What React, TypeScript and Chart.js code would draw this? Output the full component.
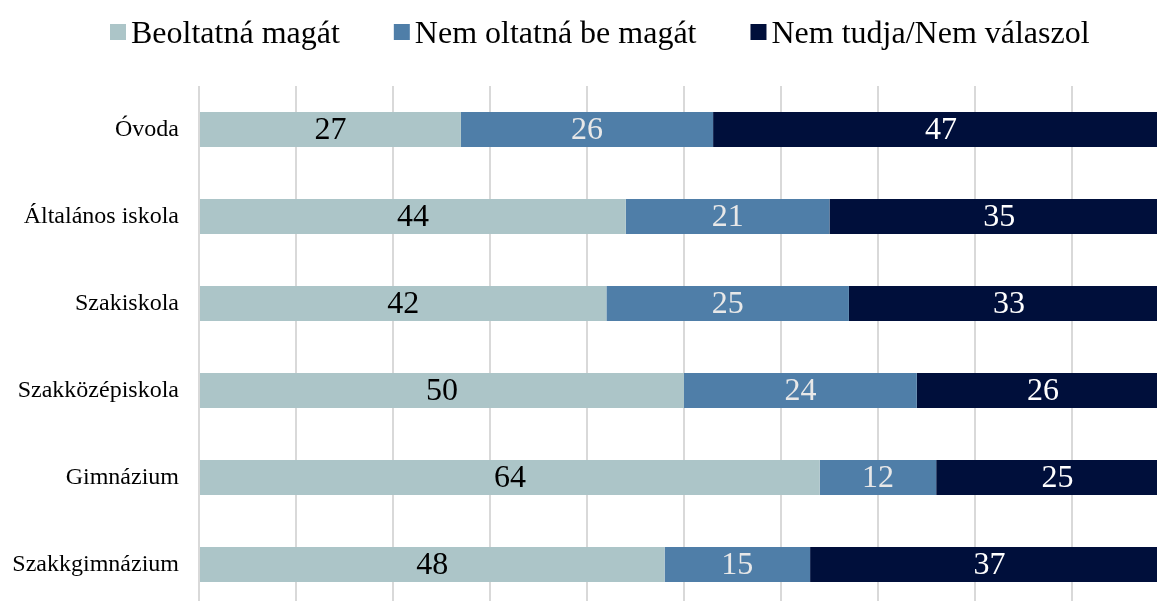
import React, { useEffect, useRef } from "react";
import { Chart, registerables } from "chart.js";

Chart.register(...registerables);

const categories = [
  "Óvoda",
  "Általános iskola",
  "Szakiskola",
  "Szakközépiskola",
  "Gimnázium",
  "Szakkgimnázium",
];
const seriesNames = ["Beoltatná magát", "Nem oltatná be magát", "Nem tudja/Nem válaszol"];
const beoltatna = [27, 44, 42, 50, 64, 48];
const nemOltatna = [26, 21, 25, 24, 12, 15];
const nemTudja = [47, 35, 33, 26, 25, 37];
const xTicks = [0, 10, 20, 30, 40, 50, 60, 70, 80, 90, 100];

const colors = ["#acc5c8", "#4f7ea8", "#000f3b"];
const labelColors = ["#000000", "#e8e8e8", "#ffffff"];
const SERIF = "'Liberation Serif', 'Times New Roman', serif";

const valueLabelPlugin = {
  id: "valueLabels",
  afterDatasetsDraw(chart: any) {
    const ctx = chart.ctx;
    ctx.save();
    ctx.font = `32px ${SERIF}`;
    ctx.textAlign = "center";
    ctx.textBaseline = "middle";
    chart.data.datasets.forEach((ds: any, di: number) => {
      const meta = chart.getDatasetMeta(di);
      meta.data.forEach((el: any, i: number) => {
        const p = el.getCenterPoint();
        ctx.fillStyle = labelColors[di];
        ctx.fillText(String(ds.data[i]), p.x, p.y + 1);
      });
    });
    ctx.restore();
  },
};

const customLegendPlugin = {
  id: "customLegend",
  afterDraw(chart: any) {
    const ctx = chart.ctx;
    ctx.save();
    ctx.font = `32px ${SERIF}`;
    ctx.textBaseline = "alphabetic";
    ctx.textAlign = "left";
    let x = 110;
    const box = 16;
    chart.data.datasets.forEach((ds: any) => {
      ctx.fillStyle = ds.backgroundColor;
      ctx.fillRect(x, 24, box, box);
      x += box + 5;
      ctx.fillStyle = "#000000";
      ctx.fillText(ds.label, x, 43);
      x += ctx.measureText(ds.label).width + 54;
    });
    ctx.restore();
  },
};

export default function App() {
  const ref = useRef<HTMLCanvasElement | null>(null);

  useEffect(() => {
    if (!ref.current) return;
    const chart = new Chart(ref.current, {
      type: "bar",
      data: {
        labels: categories,
        datasets: [
          { label: seriesNames[0], data: beoltatna, backgroundColor: colors[0] },
          { label: seriesNames[1], data: nemOltatna, backgroundColor: colors[1] },
          { label: seriesNames[2], data: nemTudja, backgroundColor: colors[2] },
        ],
      },
      options: {
        indexAxis: "y",
        animation: false,
        responsive: false,
        layout: { padding: { top: 86, right: 11, bottom: 2, left: 0 } },
        datasets: {
          bar: { barPercentage: 0.4, categoryPercentage: 1, borderWidth: 0 },
        },
        plugins: {
          legend: { display: false },
          tooltip: { enabled: false },
        },
        scales: {
          x: {
            stacked: true,
            min: 0,
            max: 100,
            afterBuildTicks: (s: any) => {
              s.ticks = xTicks.map((v) => ({ value: v }));
            },
            afterFit: (s: any) => {
              s.height = 0;
              s.paddingLeft = 0;
              s.paddingRight = 0;
            },
            ticks: { display: false },
            grid: { color: "#d9d9d9", lineWidth: 2, drawTicks: false },
            border: { display: false },
          },
          y: {
            stacked: true,
            afterFit: (s: any) => {
              s.width = 199;
              s.paddingTop = 0;
              s.paddingBottom = 0;
            },
            ticks: {
              padding: 20,
              color: "#000000",
              font: { family: SERIF, size: 24 },
            },
            grid: { display: false, drawTicks: false },
            border: { display: false },
          },
        },
      },
      plugins: [valueLabelPlugin, customLegendPlugin],
    });
    return () => chart.destroy();
  }, []);

  return (
    <div
      style={{
        position: "fixed",
        left: 0,
        top: 0,
        width: 1157,
        height: 601,
        overflow: "hidden",
        background: "#ffffff",
      }}
    >
      <canvas ref={ref} width={1180} height={610} style={{ display: "block" }} />
    </div>
  );
}
